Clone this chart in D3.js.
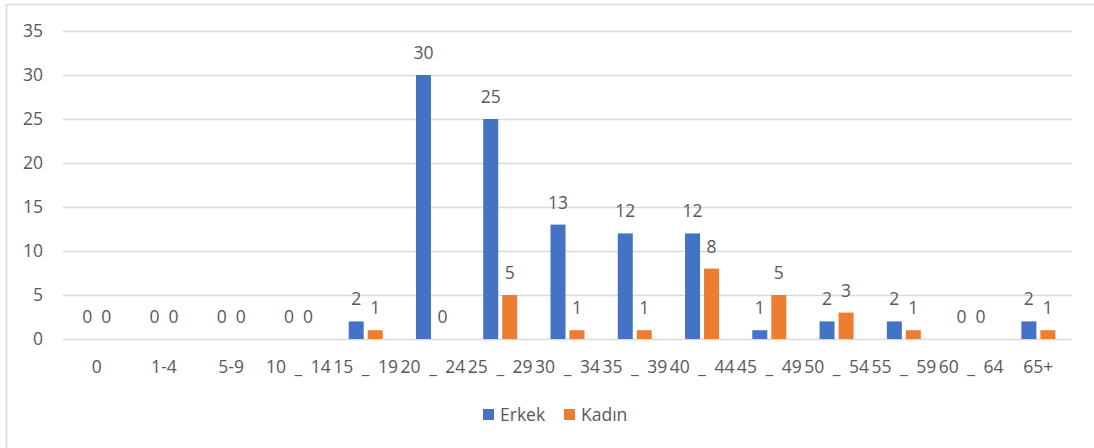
<!DOCTYPE html>
<html><head><meta charset="utf-8">
<script src="https://cdn.jsdelivr.net/npm/d3@7"></script>
<style>body{margin:0;background:#fff}svg{display:block}text{font-family:"Open Sans",sans-serif;fill:#595959}</style>
</head><body>
<svg id="c" width="1094" height="448"></svg>
<script>
const categories = ["0","1-4","5-9","10 _ 14","15 _ 19","20 _ 24","25 _ 29","30 _ 34","35 _ 39","40 _ 44","45 _ 49","50 _ 54","55 _ 59","60 _ 64","65+"];
const seriesNames = ["Erkek","Kadın"];
const erkek = [0,0,0,0,2,30,25,13,12,12,1,2,2,0,2];
const kadin = [0,0,0,0,1,0,5,1,1,8,5,3,1,0,1];
const yTicks = [0,5,10,15,20,25,30,35];
const colors = ["#4472C4","#ED7D31"];

const svg = d3.select("#c");
svg.append("line").attr("x1",6.5).attr("x2",1094).attr("y1",4.5).attr("y2",4.5).attr("stroke","#d9d9d9").attr("stroke-width",1.5);
svg.append("line").attr("x1",6.5).attr("x2",6.5).attr("y1",4.5).attr("y2",448).attr("stroke","#d9d9d9").attr("stroke-width",1.5);

const L=63, R=1072, T=31, B=339;
const FS=17.5;
const x = d3.scaleBand().domain(categories).range([L,R]);
const bw = x.bandwidth();
const x1 = d3.scaleBand().domain(seriesNames).range([bw/2-17,bw/2+17]).paddingInner(0.2105).paddingOuter(0);
const y = d3.scaleLinear().domain([0,35]).range([B,T]);

const yAxis = d3.axisLeft(y).tickValues(yTicks).tickSize(-(R-L)).tickPadding(20);
const gy = svg.append("g").attr("transform",`translate(${L},0)`).call(yAxis);
gy.select(".domain").remove();
gy.selectAll(".tick line").attr("stroke","#d9d9d9").attr("stroke-width",1.5);
gy.selectAll(".tick text").attr("font-size",FS).attr("fill","#595959").attr("font-family","'Open Sans',sans-serif");

const xAxis = d3.axisBottom(x).tickSize(0).tickPadding(22);
const gx = svg.append("g").attr("transform",`translate(0,${B})`).call(xAxis);
gx.select(".domain").remove();
gx.selectAll(".tick text").attr("font-size",FS).attr("fill","#595959").attr("font-family","'Open Sans',sans-serif").attr("word-spacing","4px");

const data = categories.map((c,i)=>({c, vals:[erkek[i],kadin[i]]}));
const grp = svg.append("g").selectAll("g").data(data).join("g").attr("transform",d=>`translate(${x(d.c)},0)`);
grp.selectAll("rect").data(d=>d.vals.map((v,j)=>({s:seriesNames[j],v,j}))).join("rect")
  .attr("x",d=>x1(d.s)).attr("width",x1.bandwidth())
  .attr("y",d=>y(d.v)).attr("height",d=>B-y(d.v)).attr("fill",d=>colors[d.j]);
grp.selectAll("text.lbl").data(d=>d.vals.map((v,j)=>({s:seriesNames[j],v,j}))).join("text")
  .attr("class","lbl").attr("x",d=>x1(d.s)+x1.bandwidth()/2).attr("y",d=>y(d.v)-16)
  .attr("text-anchor","middle").attr("font-size",FS).text(d=>d.v);

const leg = svg.append("g");
const legX = [483,564];
seriesNames.forEach((n,i)=>{
  leg.append("rect").attr("x",legX[i]).attr("y",409).attr("width",11).attr("height",11).attr("fill",colors[i]);
  leg.append("text").attr("x",legX[i]+17).attr("y",421).attr("font-size",FS).text(n);
});
</script>
</body></html>
